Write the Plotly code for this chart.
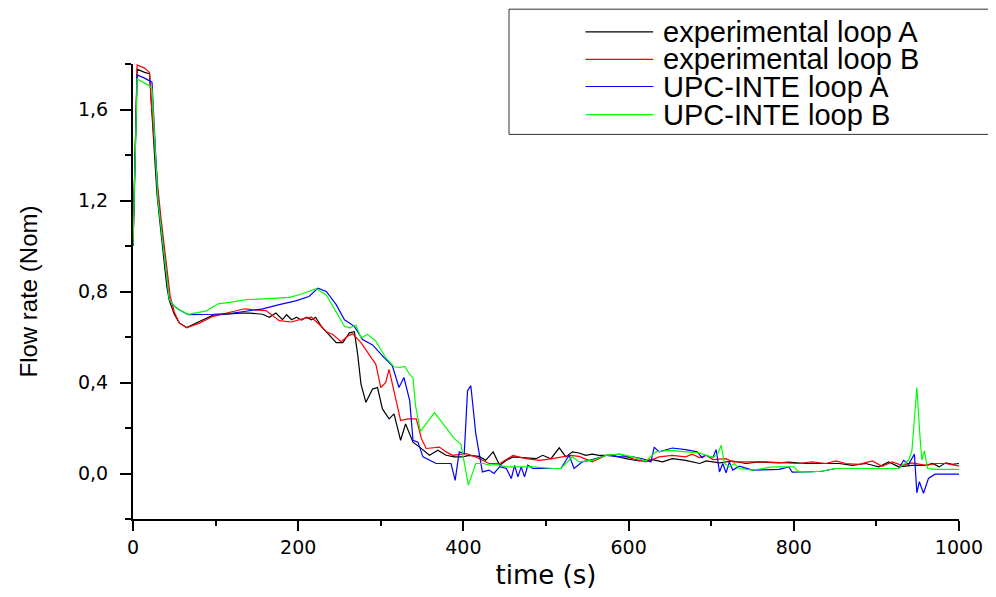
import plotly.graph_objects as go

# Zeitachsen und Werte
t_exp_a = [0, 5, 14, 20, 23, 29, 33, 37, 41, 44,
           50, 56, 65, 81, 97, 113, 129, 141, 157, 165,
           173, 181, 186, 192, 198, 204, 210, 216, 221, 228,
           236, 246, 254, 262, 268, 272, 276, 282, 290, 296,
           302, 310, 316, 324, 330, 339, 347, 359, 369, 379,
           389, 399, 407, 419, 427, 436, 444, 452, 460, 476,
           488, 496, 506, 516, 524, 532, 540, 548, 556, 564,
           581, 597, 613, 629, 641, 653, 669, 686, 694, 710,
           726, 742, 758, 782, 794, 814, 839, 855, 871, 887,
           903, 915, 927, 943, 960, 968, 976, 984, 992, 1000]
flow_exp_a = [1.0, 1.777, 1.763, 1.757, 1.58, 1.23, 1.09, 0.96, 0.82, 0.76,
              0.70, 0.662, 0.642, 0.669, 0.696, 0.70, 0.705, 0.705, 0.70, 0.687,
              0.705, 0.676, 0.698, 0.676, 0.687, 0.674, 0.687, 0.676, 0.687, 0.647,
              0.614, 0.575, 0.575, 0.618, 0.623, 0.524, 0.393, 0.313, 0.371, 0.378,
              0.284, 0.24, 0.262, 0.146, 0.218, 0.138, 0.116, 0.08, 0.102, 0.08,
              0.073, 0.073, 0.08, 0.075, 0.058, 0.095, 0.036, 0.058, 0.073, 0.07,
              0.065, 0.08, 0.065, 0.113, 0.073, 0.095, 0.09, 0.08, 0.085, 0.08,
              0.08, 0.065, 0.055, 0.061, 0.051, 0.065, 0.058, 0.044, 0.055, 0.047,
              0.055, 0.044, 0.051, 0.047, 0.05, 0.044, 0.044, 0.044, 0.036, 0.044,
              0.029, 0.051, 0.029, 0.036, 0.036, 0.044, 0.029, 0.047, 0.040, 0.044]

t_exp_b = [0, 5, 14, 20, 22, 30, 34, 38, 42, 45,
           50, 56, 65, 81, 97, 113, 125, 135, 145, 161,
           177, 192, 206, 216, 226, 234, 242, 252, 260, 266,
           276, 286, 294, 300, 306, 310, 318, 324, 333, 343,
           349, 355, 371, 379, 387, 403, 415, 431, 444, 460,
           476, 492, 508, 520, 530, 540, 556, 573, 589, 605,
           621, 637, 653, 669, 677, 686, 694, 702, 718, 726,
           742, 766, 790, 806, 822, 839, 851, 863, 879, 895,
           907, 919, 931, 943, 960, 972, 984, 1000]
flow_exp_b = [1.0, 1.796, 1.782, 1.763, 1.64, 1.26, 1.12, 0.99, 0.86, 0.78,
              0.71, 0.662, 0.64, 0.662, 0.691, 0.705, 0.713, 0.724, 0.72, 0.716,
              0.672, 0.666, 0.681, 0.687, 0.654, 0.623, 0.611, 0.579, 0.604, 0.614,
              0.575, 0.521, 0.48, 0.378, 0.40, 0.458, 0.327, 0.233, 0.24, 0.24,
              0.155, 0.11, 0.116, 0.095, 0.08, 0.087, 0.073, 0.044, 0.044, 0.08,
              0.065, 0.058, 0.065, 0.073, 0.08, 0.075, 0.051, 0.08, 0.085, 0.065,
              0.051, 0.073, 0.08, 0.073, 0.085, 0.07, 0.08, 0.061, 0.065, 0.051,
              0.051, 0.051, 0.047, 0.044, 0.051, 0.044, 0.055, 0.044, 0.04, 0.055,
              0.032, 0.051, 0.036, 0.047, 0.036, 0.044, 0.044, 0.032]

t_upc_a = [0, 5, 14, 20, 23, 30, 34, 38, 42, 44,
           50, 56, 67, 81, 97, 117, 137, 157, 177, 197,
           213, 224, 234, 246, 256, 268, 278, 290, 304, 314,
           322, 328, 335, 339, 345, 351, 367, 385, 390, 395,
           401, 405, 409, 415, 423, 431, 437, 444, 452, 458,
           462, 466, 470, 474, 478, 484, 500, 518, 528, 534,
           544, 556, 573, 589, 605, 617, 627, 631, 637, 653,
           669, 683, 689, 693, 702, 706, 710, 714, 718, 722,
           726, 734, 750, 766, 782, 794, 798, 814, 834, 851,
           871, 887, 903, 927, 933, 939, 946, 949, 952, 957,
           963, 971, 1000]
flow_upc_a = [1.0, 1.752, 1.738, 1.728, 1.72, 1.22, 1.09, 0.96, 0.815, 0.764,
              0.735, 0.72, 0.698, 0.698, 0.70, 0.703, 0.713, 0.724, 0.742, 0.759,
              0.778, 0.815, 0.80, 0.742, 0.676, 0.647, 0.589, 0.565, 0.509, 0.473,
              0.378, 0.422, 0.32, 0.146, 0.138, 0.073, 0.044, 0.044, -0.03, 0.095,
              0.087, 0.364, 0.386, 0.175, 0.007, 0.015, 0.0, 0.03, 0.022, -0.022,
              0.036, -0.015, 0.029, -0.015, 0.036, 0.022, 0.022, 0.022, 0.08, 0.022,
              0.051, 0.061, 0.08, 0.073, 0.073, 0.065, 0.051, 0.116, 0.095, 0.112,
              0.105, 0.095, 0.07, 0.08, 0.07, 0.105, 0.007, 0.044, 0.003, 0.051,
              0.015, 0.032, 0.015, 0.018, 0.018, 0.029, 0.006, 0.007, 0.01, 0.022,
              0.022, 0.022, 0.022, 0.022, 0.058, 0.04, 0.085, -0.085, -0.036, -0.087,
              -0.022, -0.003, -0.003]

t_upc_b = [0, 5, 14, 20, 23, 30, 34, 38, 42, 44,
           50, 56, 67, 89, 103, 117, 137, 157, 177, 190,
           205, 222, 234, 246, 256, 262, 270, 276, 284, 294,
           306, 316, 323, 329, 335, 339, 342, 348, 365, 389,
           397, 406, 415, 424, 432, 440, 452, 468, 484, 508,
           518, 532, 540, 556, 573, 589, 605, 621, 633, 649,
           669, 685, 702, 708, 712, 716, 722, 728, 734, 750,
           774, 800, 806, 822, 835, 851, 927, 939, 943, 949,
           953, 955, 958, 962, 972, 1000]
flow_upc_b = [1.0, 1.734, 1.716, 1.705, 1.69, 1.21, 1.08, 0.95, 0.81, 0.764,
              0.735, 0.72, 0.70, 0.715, 0.746, 0.752, 0.764, 0.768, 0.771, 0.774,
              0.79, 0.812, 0.785, 0.713, 0.647, 0.64, 0.652, 0.596, 0.611, 0.582,
              0.509, 0.469, 0.466, 0.471, 0.436, 0.42, 0.30, 0.185, 0.268, 0.153,
              0.128, -0.051, 0.044, 0.044, 0.037, 0.04, 0.029, 0.029, 0.029, 0.022,
              0.022, 0.073, 0.051, 0.058, 0.08, 0.085, 0.073, 0.055, 0.095, 0.102,
              0.095, 0.091, 0.07, 0.085, 0.124, 0.044, 0.029, 0.044, 0.022, 0.015,
              0.029, 0.029, 0.007, 0.007, 0.011, 0.022, 0.022, 0.058, 0.10, 0.378,
              0.15, 0.06, 0.099, 0.022, 0.018, 0.018]

names = ["experimental loop A", "experimental loop B", "UPC-INTE loop A", "UPC-INTE loop B"]
colors = ["#000000", "#ff0000", "#0000ff", "#00ff00"]

y_ticks = [0.0, 0.4, 0.8, 1.2, 1.6]
y_ticktext = ["0,0", "0,4", "0,8", "1,2", "1,6"]
y_minor = [-0.2, 0.2, 0.6, 1.0, 1.4, 1.8]
x_ticks = [0, 200, 400, 600, 800, 1000]
x_minor = [100, 300, 500, 700, 900]

series = [(t_exp_a, flow_exp_a), (t_exp_b, flow_exp_b),
          (t_upc_a, flow_upc_a), (t_upc_b, flow_upc_b)]

fig = go.Figure()
for (t, flow), name, col in zip(series, names, colors):
    fig.add_trace(go.Scatter(x=t, y=flow, mode="lines", name=name,
                             line=dict(color=col, width=1.2)))

# Seite hat 8px Rand im Browser -> Figur etwas kleiner
fig.update_layout(
    width=988, height=589,
    margin=dict(l=125, r=37, t=56, b=71),
    paper_bgcolor="white", plot_bgcolor="white",
    showlegend=False,
    font=dict(family="DejaVu Sans", color="black"),
)

fig.update_xaxes(
    range=[0, 1000], showgrid=False, zeroline=False,
    showline=True, linecolor="black", linewidth=2,
    ticks="outside", ticklen=10, tickwidth=2, tickcolor="black",
    tickvals=x_ticks, tickfont=dict(size=19),
    minor=dict(tickvals=x_minor, ticks="outside", ticklen=5, tickwidth=2, tickcolor="black"),
    title=dict(text="time (s)", font=dict(size=26), standoff=9),
)
fig.update_yaxes(
    range=[-0.2, 1.8], showgrid=False, zeroline=False,
    showline=True, linecolor="black", linewidth=2,
    ticks="outside", ticklen=11, tickwidth=2, tickcolor="black",
    tickvals=y_ticks, ticktext=y_ticktext, tickfont=dict(size=19),
    ticklabelstandoff=8,
    minor=dict(tickvals=y_minor, ticks="outside", ticklen=6, tickwidth=2, tickcolor="black"),
    title=dict(text="Flow rate (Nom)",
               font=dict(size=24, family="Liberation Sans"),
               standoff=34),
)

# Legendenkasten von Hand, wie im Original
fig.add_shape(type="rect", xref="paper", yref="paper",
              x0=0.4552, x1=1.0436, y0=0.8453, y1=1.1205,
              line=dict(color="#333333", width=1), fillcolor="white", layer="above")
legend_rows = [1.0704, 1.0102, 0.9505, 0.8889]
for name, col, yy in zip(names, colors, legend_rows):
    fig.add_shape(type="line", xref="paper", yref="paper",
                  x0=0.5478, x1=0.6297, y0=yy, y1=yy,
                  line=dict(color=col, width=1.2), layer="above")
    fig.add_annotation(x=0.6395, y=yy, xref="paper", yref="paper",
                       text=name, showarrow=False, xanchor="left", yanchor="middle",
                       font=dict(size=29, family="Liberation Sans", color="black"))

fig.write_html("out.html")
